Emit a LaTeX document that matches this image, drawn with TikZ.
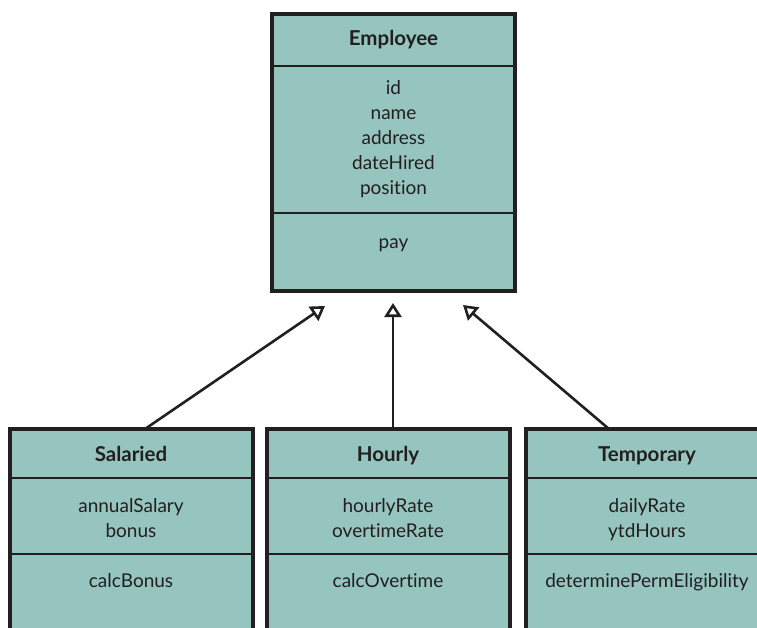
\documentclass[tikz,border=0pt]{standalone}
\usepackage{fontspec}
\setmainfont[Ligatures=NoCommon]{Lato}
\usetikzlibrary{arrows.meta}
\definecolor{classfill}{RGB}{149,197,190}
\definecolor{ink}{RGB}{35,31,32}

\begin{document}
\begin{tikzpicture}[x=1pt,y=-1pt,
  classbox/.style={draw=ink, fill=classfill, line width=3.6pt, anchor=north west,
                   minimum width=243pt, inner sep=0pt, outer sep=0pt},
  sep/.style={draw=ink, line width=1.2pt},
  title/.style={font=\fontsize{20.5}{24}\selectfont\bfseries, text=ink, anchor=base, inner sep=0pt},
  member/.style={font=\fontsize{19}{22}\selectfont, text=ink, anchor=base, inner sep=0pt},
  gen/.style={draw=ink, line width=2.6pt,
              -{Triangle[open, length=14pt, width=17pt, line width=2.6pt]}}]
\useasboundingbox (0,0) rectangle (757,628);
\clip (0,0) rectangle (757,628);

% superclass
\node[classbox, minimum height=277pt] (emp) at (272,14) {};
\draw[sep] (emp.west |- 0,66) -- (emp.east |- 0,66);
\draw[sep] (emp.west |- 0,213) -- (emp.east |- 0,213);
\node[title] (emp-t) at (393.5,46) {Employee};
\foreach \n/\t/\y in {1/id/95, 2/name/120, 3/address/145, 4/dateHired/170, 5/position/195}
  \node[member] (emp-a\n) at (393.5,\y) {\t};
\node[member] (emp-m1) at (393.5,248) {pay};

% subclasses
\node[classbox, minimum height=230pt] (sal) at (10,429) {};
\node[classbox, minimum height=230pt] (hrl) at (267,429) {};
\node[classbox, minimum height=230pt] (tmp) at (526,429) {};
\foreach \b in {sal,hrl,tmp} {
  \draw[sep] (\b.west |- 0,478) -- (\b.east |- 0,478);
  \draw[sep] (\b.west |- 0,554) -- (\b.east |- 0,554);
}

\node[title]  (sal-t)  at (131,461) {Salaried};
\node[member] (sal-a1) at (131,512) {annualSalary};
\node[member] (sal-a2) at (131,537) {bonus};
\node[member] (sal-m1) at (131,587) {calcBonus};

\node[title]  (hrl-t)  at (388,461) {Hourly};
\node[member] (hrl-a1) at (388,512) {hourlyRate};
\node[member] (hrl-a2) at (388,537) {overtimeRate};
\node[member] (hrl-m1) at (388,587) {calcOvertime};

\node[title]  (tmp-t)  at (647,461) {Temporary};
\node[member] (tmp-a1) at (647,512) {dailyRate};
\node[member] (tmp-a2) at (647,537) {ytdHours};
\node[member] (tmp-m1) at (647,587) {determinePermEligibility};

% generalization arrows
\coordinate (tip-sal) at (325,306);
\coordinate (tip-hrl) at (393,303);
\coordinate (tip-tmp) at (463,305);
\coordinate (sal-join) at (145,429);
\coordinate (hrl-join) at (393,429);
\coordinate (tmp-join) at (609,429);
\draw[gen] (sal-join) -- (tip-sal);
\draw[gen] (hrl-join) -- (tip-hrl);
\draw[gen] (tmp-join) -- (tip-tmp);
\end{tikzpicture}
\end{document}
